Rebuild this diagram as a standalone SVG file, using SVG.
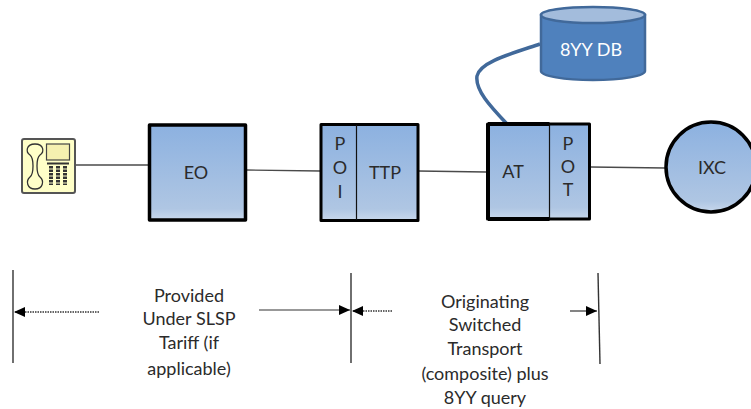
<svg xmlns="http://www.w3.org/2000/svg" width="751" height="409" viewBox="0 0 751 409">
<style>
text{font-family:"Lato","Open Sans","Liberation Sans",sans-serif;font-size:18px;fill:#2b2b2b;text-anchor:middle}
.box{fill:url(#g);stroke:#000;stroke-linejoin:round}
.wire{fill:none;stroke:#4a4a4a;stroke-width:1.4}
.bar{fill:none;stroke:#333;stroke-width:1.4}
.dot{fill:none;stroke:#333;stroke-width:1.3;stroke-dasharray:1.5 1}
.sol{fill:none;stroke:#333;stroke-width:1.2}
.ph{fill:none;stroke:#333;stroke-width:1.3}
</style>
<defs>
<linearGradient id="g" x1="0" y1="0" x2="0" y2="1"><stop offset="0" stop-color="#8cb1e0"/><stop offset=".88" stop-color="#afc6e3"/><stop offset="1" stop-color="#c8d8ec"/></linearGradient>
<marker id="a" markerWidth="12" markerHeight="10" refX="11" refY="5" orient="auto-start-reverse" markerUnits="userSpaceOnUse"><path d="M0 0L11 5L0 10Z" fill="#000"/></marker>
</defs>
<g id="connectors">
<path class="wire" d="M76 165H148"/>
<path class="wire" d="M246 170L320 171"/>
<path class="wire" d="M418 171L486 172"/>
<path class="wire" d="M591 167L665 168"/>
<path d="M540 44C510 54 480 62 477 76C475 90 490 106 507 124" fill="none" stroke="#41699a" stroke-width="3.5"/>
<path class="bar" d="M13 270V363"/>
<path class="bar" d="M351 273V363"/>
<path class="bar" d="M598 273L600 364"/>
<path class="dot" d="M99 312H14" marker-end="url(#a)"/>
<path class="sol" d="M259 310H350" marker-end="url(#a)"/>
<path class="dot" d="M392 311H352" marker-end="url(#a)"/>
<path class="sol" d="M570 311H597" marker-end="url(#a)"/>
</g>
<g id="phone">
<rect x="22" y="139" width="53" height="54" rx="2" fill="#ffffc8" stroke="#555" stroke-width="2"/>
<path class="ph" d="M35 144C26 144 25.500 152 30 155C32.500 157 33 160 33 166C33 172 32.500 175 30 177C25.500 181 27 189 35 189C43 189 44.500 181 40 177C37.500 175 37 172 37 166C37 160 37.500 157 40 155C44.500 152 44 144 35 144Z"/>
<rect x="46.500" y="144" width="23" height="16" fill="#f5f0b0" stroke="#444" stroke-width="1.2"/>
<path d="M47 163.500H69" stroke="#333" stroke-width="2"/>
<g fill="none" stroke="#333" stroke-width="4" stroke-dasharray="2.500 1"><path d="M51 166V185"/><path d="M58 166V185"/><path d="M65 166V185"/></g>
</g>
<g id="eo">
<rect class="box" x="149.500" y="125" width="96" height="95" stroke-width="3.500"/>
<text x="196" y="179">EO</text>
</g>
<g id="poi-ttp">
<rect class="box" x="321" y="124.500" width="97" height="96" stroke-width="3"/>
<path d="M356.500 125V220" stroke="#111" stroke-width="1.200"/>
<text x="340" y="150">P</text><text x="340" y="174">O</text><text x="340" y="198">I</text>
<text x="385" y="179">TTP</text>
</g>
<g id="at-pot">
<rect class="box" x="487.500" y="124" width="102" height="95" stroke-width="3"/>
<path d="M549.500 124V219" stroke="#111" stroke-width="1.200"/>
<path d="M488 124H549.500M488 219H549.500M488 124V219" stroke="#000" stroke-width="4" fill="none"/>
<text x="513" y="178">AT</text>
<text x="568" y="150">P</text><text x="568" y="173">O</text><text x="568" y="196">T</text>
</g>
<g id="ixc">
<circle class="box" cx="711" cy="167" r="45" stroke-width="3.500"/>
<text x="712" y="174">IXC</text>
</g>
<g id="db">
<path d="M541 15V71C541 76 564 80 593 80C622 80 645 76 645 71V15Z" fill="#4f81bd" stroke="#41699a" stroke-width="2.500"/>
<ellipse cx="593" cy="15" rx="52" ry="8" fill="#a3bcdc" stroke="#41699a" stroke-width="2.500"/>
<text x="591" y="56" style="fill:#fff">8YY DB</text>
</g>
<g id="labels">
<text x="189" y="302">Provided</text>
<text x="189" y="325">Under SLSP</text>
<text x="189" y="349">Tariff (if</text>
<text x="189" y="375">applicable)</text>
<text x="485" y="308">Originating</text>
<text x="485" y="331">Switched</text>
<text x="485" y="355">Transport</text>
<text x="485" y="380">(composite) plus</text>
<text x="485" y="404">8YY query</text>
</g>
</svg>
